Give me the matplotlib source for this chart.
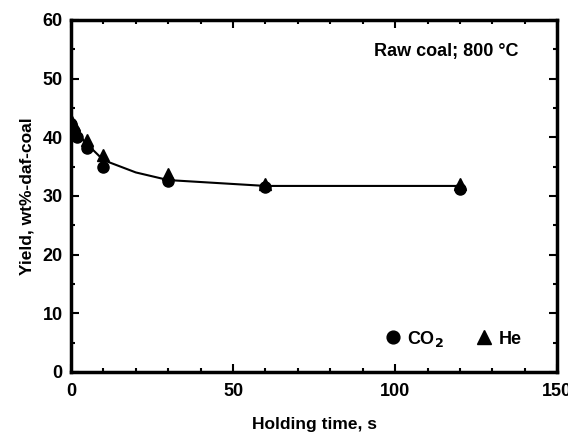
import matplotlib
matplotlib.use("Agg")
import matplotlib.pyplot as plt
from matplotlib.ticker import MultipleLocator

plt.rcParams['font.family'] = ['Liberation Sans', 'DejaVu Sans']
plt.rcParams['font.weight'] = 'bold'

co2_t = [0, 1, 2, 5, 10, 30, 60, 120]
co2_y = [42.3, 41.0, 40.0, 38.2, 35.0, 32.6, 31.5, 31.2]
he_t = [0, 1, 2, 5, 10, 30, 60, 120]
he_y = [43.0, 42.0, 40.6, 39.6, 37.0, 33.8, 32.0, 32.0]
fit_t = [0, 1, 2, 5, 10, 20, 30, 60, 120]
fit_y = [42.6, 41.5, 40.6, 38.8, 36.1, 34.0, 32.7, 31.7, 31.7]

fig = plt.figure(figsize=(5.68, 4.32), dpi=100)
ax = fig.add_axes([0.125, 0.139, 0.856, 0.815])

ax.plot(fit_t, fit_y, color='black', lw=1.5, zorder=1)
ax.plot(co2_t, co2_y, 'o', color='black', ms=8, label='CO$_\\mathbf{2}$', zorder=2)
ax.plot(he_t, he_y, '^', color='black', ms=9, label='He', zorder=3)

ax.set_xlim(0, 150)
ax.set_ylim(0, 60)
ax.xaxis.set_major_locator(MultipleLocator(50))
ax.xaxis.set_minor_locator(MultipleLocator(10))
ax.yaxis.set_major_locator(MultipleLocator(10))
ax.yaxis.set_minor_locator(MultipleLocator(5))
ax.tick_params(which='both', direction='in', top=True, right=True, labelsize=13, width=1.5)
ax.tick_params(which='major', length=6)
ax.tick_params(which='minor', length=3)
ax.tick_params(axis='x', which='major', pad=8)
ax.tick_params(axis='y', which='major', pad=6)
for s in ax.spines.values():
    s.set_linewidth(2.5)
for lab in ax.get_xticklabels() + ax.get_yticklabels():
    lab.set_fontweight('bold')

ax.set_xlabel('Holding time, s', fontsize=12.5, fontweight='bold', labelpad=12)
ax.set_ylabel('Yield, wt%-daf-coal', fontsize=12.5, fontweight='bold', labelpad=6)
ax.text(0.92, 0.91, 'Raw coal; 800 °C', transform=ax.transAxes, ha='right', va='center',
        fontsize=13, fontweight='bold')

leg = ax.legend(loc='lower right', bbox_to_anchor=(0.96, 0.02), ncol=2, frameon=False,
                handlelength=0.8, handletextpad=0.4, columnspacing=1.8, markerscale=1.15,
                prop={'weight': 'bold', 'size': 13})

fig.savefig('out.png', dpi=100)
